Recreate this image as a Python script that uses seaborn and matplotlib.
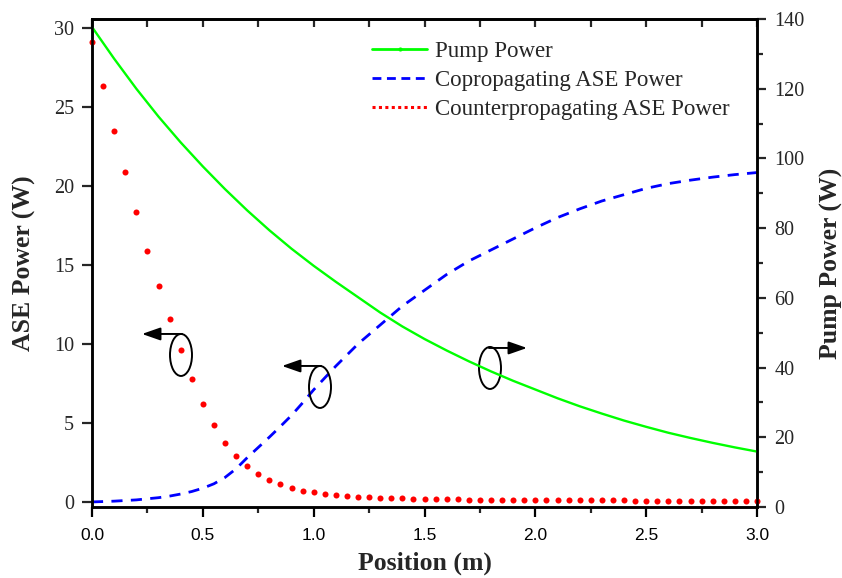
import numpy as np
import pandas as pd
import matplotlib
matplotlib.use("Agg")
import matplotlib.pyplot as plt
from matplotlib.patches import Ellipse
from matplotlib.lines import Line2D
from matplotlib.ticker import MultipleLocator
import seaborn as sns

# ---------------- data ----------------
pump_x = [0.0, 0.1, 0.2, 0.3, 0.4, 0.5, 0.6, 0.7, 0.8, 0.9, 1.0, 1.1, 1.2, 1.3, 1.4, 1.5,
          1.6, 1.7, 1.8, 1.9, 2.0, 2.1, 2.2, 2.3, 2.4, 2.5, 2.6, 2.7, 2.8, 2.9, 3.0]
pump_power = [137.7, 128.6, 120.0, 112.0, 104.6, 97.7, 91.2, 85.1, 79.4, 74.1, 69.2, 64.6, 60.2, 55.8, 51.8, 48.2,
              44.9, 41.8, 38.9, 36.2, 33.7, 31.2, 28.9, 26.8, 24.8, 23.0, 21.3, 19.8, 18.4, 17.1, 15.9]

co_x = [0.0, 0.1, 0.2, 0.3, 0.35, 0.4, 0.45, 0.5, 0.55, 0.6, 0.65, 0.7, 0.75, 0.8, 0.85, 0.9, 0.95,
        1.0, 1.1, 1.2, 1.3, 1.4, 1.5, 1.6, 1.7, 1.8, 1.9, 2.0, 2.1, 2.2, 2.3, 2.4, 2.5, 2.6, 2.7, 2.8, 2.9, 3.0]
co_ase = [0.0, 0.05, 0.13, 0.27, 0.37, 0.5, 0.66, 0.87, 1.15, 1.55, 2.1, 2.8, 3.45, 4.1, 4.78, 5.48, 6.27,
          7.1, 8.6, 10.0, 11.2, 12.4, 13.4, 14.4, 15.25, 15.95, 16.65, 17.35, 18.0, 18.55, 19.05, 19.45,
          19.85, 20.15, 20.37, 20.56, 20.72, 20.85]

counter_x = [0.00, 0.05, 0.10, 0.15, 0.20, 0.25, 0.30, 0.35, 0.40, 0.45, 0.50, 0.55, 0.60, 0.65, 0.70,
             0.75, 0.80, 0.85, 0.90, 0.95, 1.00, 1.05, 1.10, 1.15, 1.20, 1.25, 1.30, 1.35, 1.40, 1.45,
             1.50, 1.55, 1.60, 1.65, 1.70, 1.75, 1.80, 1.85, 1.90, 1.95, 2.00, 2.05, 2.10, 2.15, 2.20,
             2.25, 2.30, 2.35, 2.40, 2.45, 2.50, 2.55, 2.60, 2.65, 2.70, 2.75, 2.80, 2.85, 2.90, 2.95, 3.00]
counter_ase = [29.1, 26.3, 23.5, 20.9, 18.35, 15.9, 13.7, 11.55, 9.62, 7.8, 6.22, 4.88, 3.74, 2.9, 2.25,
               1.77, 1.4, 1.14, 0.9, 0.72, 0.6, 0.51, 0.44, 0.39, 0.34, 0.3, 0.27, 0.24, 0.22, 0.2,
               0.19, 0.18, 0.17, 0.16, 0.15, 0.14, 0.14, 0.13, 0.13, 0.12, 0.12, 0.115, 0.11, 0.11, 0.105,
               0.1, 0.1, 0.095, 0.095, 0.09, 0.09, 0.085, 0.085, 0.08, 0.08, 0.075, 0.075, 0.07, 0.07, 0.065, 0.065]

legend_labels = ["Pump Power", "Copropagating ASE Power", "Counterpropagating ASE Power"]
x_label = "Position (m)"
y_left_label = "ASE Power (W)"
y_right_label = "Pump Power (W)"

# ---------------- style ----------------
sns.set_style("ticks")
plt.rcParams["font.family"] = ["Liberation Serif", "DejaVu Serif"]

GREEN = "#00ff00"
BLUE = "#0000ff"
RED = "#ff0000"

W, H = 842, 578
fig = plt.figure(figsize=(W / 100, H / 100), dpi=100)
L, R, T, B = 92, 757, 19, 507
ax = fig.add_axes([L / W, 1 - B / H, (R - L) / W, (B - T) / H])
ax2 = ax.twinx()

df_pump = pd.DataFrame({"x": pump_x, "y": pump_power})
df_co = pd.DataFrame({"x": co_x, "y": co_ase})
df_counter = pd.DataFrame({"x": counter_x, "y": counter_ase})

# copropagating (dashed blue) on left axis
sns.lineplot(data=df_co, x="x", y="y", ax=ax, color=BLUE, lw=2.0, legend=False)
ax.lines[-1].set_dashes((4.0, 3.0))
# counterpropagating (red dots) on left axis
sns.scatterplot(data=df_counter, x="x", y="y", ax=ax, color=RED, s=19, linewidth=0, legend=False,
                zorder=4, clip_on=False)
# pump on right axis
sns.lineplot(data=df_pump, x="x", y="y", ax=ax2, color=GREEN, lw=1.7, legend=False)

# ---------------- axes ----------------
ax.set_xlim(0, 3.0)
ax.set_ylim(-0.32, 30.57)
ax2.set_ylim(0, 140)

ax.xaxis.set_major_locator(MultipleLocator(0.5))
ax.xaxis.set_minor_locator(MultipleLocator(0.25))
ax.yaxis.set_major_locator(MultipleLocator(5))
ax2.yaxis.set_major_locator(MultipleLocator(20))
ax2.yaxis.set_minor_locator(MultipleLocator(10))

ax.set_xticks(np.arange(0, 3.01, 0.5))
ax.set_xticklabels(["%.1f" % v for v in np.arange(0, 3.01, 0.5)], family="Liberation Sans", fontsize=12.5)

for a in (ax, ax2):
    for s in a.spines.values():
        s.set_linewidth(1.8)
        s.set_color("black")

ax.tick_params(axis="x", which="major", direction="out", length=7, width=1.6, pad=8, colors="black")
ax.tick_params(axis="x", which="minor", direction="out", length=4.5, width=1.6)
ax.tick_params(axis="y", which="major", direction="out", length=7, width=1.6, pad=6, labelsize=14.5)
ax2.tick_params(axis="y", which="major", direction="out", length=6.5, width=1.6, pad=6, labelsize=14.5)
ax2.tick_params(axis="y", which="minor", direction="out", length=4, width=1.6)

# top inward ticks
top = ax.secondary_xaxis("top")
top.xaxis.set_major_locator(MultipleLocator(0.25))
top.tick_params(axis="x", which="major", direction="in", length=5.5, width=1.6, labeltop=False)
top.spines["top"].set_linewidth(1.8)

ax.set_xlabel(x_label, fontsize=18.5, fontweight="bold", labelpad=6)
ax.set_ylabel(y_left_label, fontsize=18.5, fontweight="bold", labelpad=13)
ax2.set_ylabel(y_right_label, fontsize=18.5, fontweight="bold", labelpad=11)

# ---------------- annotations (ellipses + arrows) ----------------
def px_to_data(px, py):
    return ((px - L) / (R - L) * 3.0, (502 - py) / 15.8)

ell_specs = [((181, 355), (182, 334), (142, 334)),
             ((320, 387), (321, 366), (282, 366)),
             ((490, 368), (489, 348), (527, 348))]
for (c, start, tip) in ell_specs:
    cx, cy = px_to_data(*c)
    e = Ellipse((cx, cy), width=22 / (R - L) * 3.0, height=42 / 15.8, fill=False, ec="black", lw=1.4, zorder=5)
    ax.add_patch(e)
    sx, sy = px_to_data(*start)
    tx, ty = px_to_data(*tip)
    ax.annotate("", xy=(tx, ty), xytext=(sx, sy),
                arrowprops=dict(arrowstyle="-|>,head_length=0.8,head_width=0.28", color="black", lw=1.4,
                                shrinkA=0, shrinkB=0, mutation_scale=14), zorder=6)

# ---------------- legend ----------------
handles = [
    Line2D([0], [0], color=GREEN, lw=2.0, marker="o", markersize=2.0),
    Line2D([0], [0], color=BLUE, lw=2.0, dashes=(3.2, 2.0)),
    Line2D([0], [0], color=RED, lw=2.2, linestyle=(0, (1.0, 1.1))),
]
leg = ax.legend(handles, legend_labels, loc="upper left", frameon=False, fontsize=16.5,
                handlelength=2.4, handletextpad=0.35, labelspacing=0.34, borderpad=0, borderaxespad=0)
leg.set_bbox_to_anchor((372 / W, 1 - 41 / H), transform=fig.transFigure)
leg.set_zorder(10)

fig.savefig("out.png", dpi=100)
